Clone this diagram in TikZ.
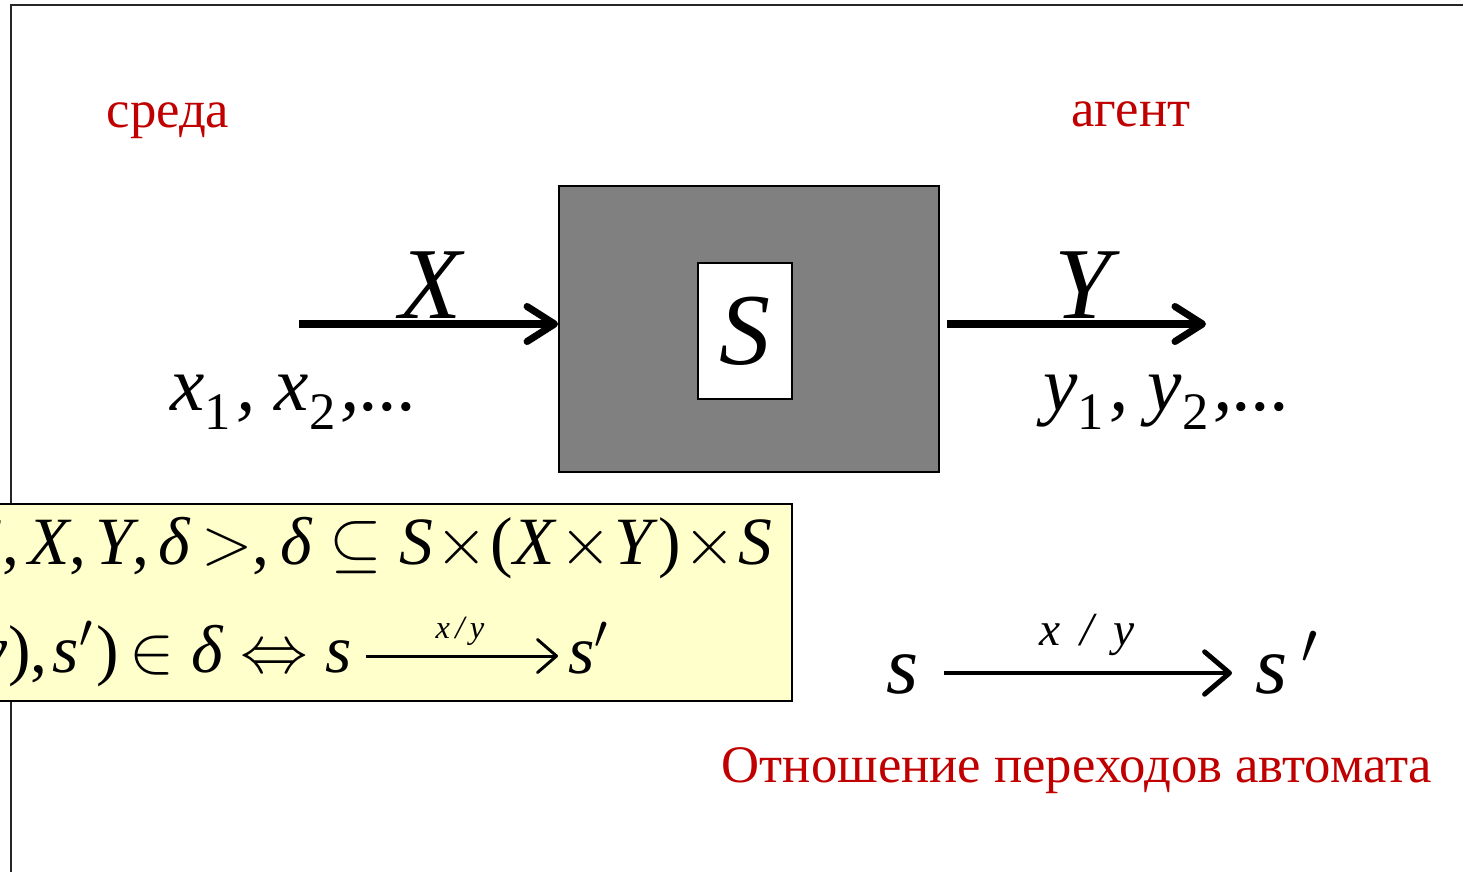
\RequirePackage{fix-cm}
\documentclass[tikz,border=0pt]{standalone}
\usepackage{fontspec}
\setmainfont{Liberation Serif}
\usetikzlibrary{arrows.meta, positioning}

\definecolor{notered}{RGB}{192,0,0}
\definecolor{notepaper}{RGB}{255,255,204}
\newcommand{\fsz}[1]{\fontsize{#1}{#1}\selectfont}
\newcommand{\low}[1]{\raisebox{-11pt}{\fsz{30pt}\upshape #1}}
\newcommand{\tm}{\kern1.5pt$\times$\kern1.5pt}

\begin{document}
\begin{tikzpicture}[
        x=0.02cm, y={(0cm,-0.02cm)},
        lbl/.style={text=notered, inner sep=0pt, anchor=base, font=\fsz{30pt}},
        var/.style={inner sep=0pt, anchor=base, font=\fsz{58pt}\itshape},
        seq/.style={inner sep=0pt, anchor=base west, font=\fsz{44pt}\itshape},
        formula/.style={inner sep=0pt, font=\fsz{38.5pt}},
        blackbox/.style={rectangle, draw, line width=1.1pt, fill=gray, minimum width=7.6cm, minimum height=5.72cm},
        statebox/.style={rectangle, draw, line width=1.1pt, fill=white, minimum width=1.88cm, minimum height=2.72cm, inner sep=0pt, font=\fsz{58pt}\itshape},
        notebox/.style={rectangle, draw, line width=1.1pt, fill=notepaper, minimum width=15.86cm, minimum height=3.94cm},
        wire/.style={line width=4pt, -{Straight Barb[length=0.55cm, width=0.7cm, line cap=round, line join=round]}},
        step arrow/.style={line width=2.8pt, -{Straight Barb[length=0.5cm, width=0.85cm, line cap=round, line join=round]}},
        small arrow/.style={line width=1.7pt, -{Straight Barb[length=0.38cm, width=0.66cm, line cap=round, line join=round]}}
    ]
    \useasboundingbox (0,0) rectangle (1463,872);

    % Frame
    \draw [line width=1.1pt, black!85] (11,872) |- (1463,5);

    % Nodes
    \node (env) [lbl] at (168,127) {среда};
    \node (ag) [lbl] at (1131,126) {агент};

    \node (agent) [blackbox] at (749,329) {};
    \node (state) [statebox] at (745,331) {S};

    \coordinate (xin) at (299,324);
    \coordinate (yout) at (1206,324);
    \node (Xl) [var] at (431,318) {X};
    \node (Yl) [var] at (1083,318) {Y};

    \node (xs) [seq] at (170,410) {x\low{1}\kern3pt, x\low{2}\kern3pt,...};
    \node (ys) [seq] at (1043,410) {y\low{1}\kern3pt, y\low{2}\kern3pt,...};

    % Arrows
    \draw [wire] (xin) -- (xin -| agent.west);
    \draw [wire, shorten <=0.14cm] (agent.east |- yout) -- (yout);

    % Definition box
    \node (defs) [notebox] at (395.5,602.5) {};
    \begin{scope}
        \clip (defs.south west) rectangle (defs.north east);
        \node (tuple) [formula, anchor=base east] at (773,564)
            {<\textit{S},\kern5pt\textit{X},\kern5pt\textit{Y},\kern5pt\textit{δ}\kern6pt$>$,\kern6pt\textit{δ} $\subseteq$ \textit{S}\tm(\textit{X}\tm\textit{Y})\tm\textit{S}};
        \node (rel) [formula, anchor=base east] at (352,672)
            {((\textit{s}, (\textit{x}, \textit{y}),\kern3pt\textit{s}$'$\kern2pt)\kern6pt$\in$ \textit{δ} $\Leftrightarrow$ \textit{s}};
        \node (rel2) [formula, anchor=base west] at (568,673) {\textit{s}$'$};
        \coordinate (low) at (0,656);
        \draw [small arrow, shorten <=0.28cm, shorten >=0.2cm] (rel.east |- low) -- node [above=0.18cm, inner sep=0pt, font=\fsz{18.5pt}\itshape] {x\,/\,y} (rel2.west |- low);
    \end{scope}

    % Transition
    \node (src) [inner sep=0pt, anchor=base west, font=\fsz{47pt}\itshape] at (886,693) {s};
    \node (dst) [inner sep=0pt, anchor=base west, font=\fsz{47pt}\itshape] at (1255,693) {s\,$'$};
    \coordinate (mid) at (0,673);
    \draw [step arrow, shorten <=0.5cm, shorten >=0.46cm] (src.east |- mid) -- node [above=0.3cm, inner sep=0pt, font=\fsz{27pt}\itshape] {x\, /\, y} (dst.west |- mid);

    \node (caption) [lbl] at (1077,782) {Отношение переходов автомата};

\end{tikzpicture}
\end{document}
